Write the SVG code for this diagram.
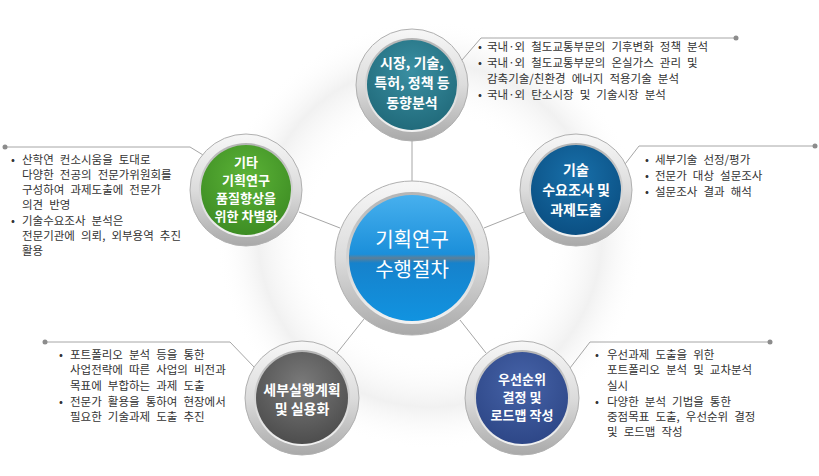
<svg xmlns="http://www.w3.org/2000/svg" width="819" height="476" viewBox="0 0 819 476">
<defs>
  <linearGradient id="ring" x1="0" y1="0" x2="0" y2="1">
    <stop offset="0" stop-color="#f7f7f7"/>
    <stop offset="0.5" stop-color="#dcdcdc"/>
    <stop offset="1" stop-color="#a9a9a9"/>
  </linearGradient>
  <linearGradient id="ringIn" x1="0" y1="0" x2="0" y2="1">
    <stop offset="0" stop-color="#b5b5b5"/>
    <stop offset="1" stop-color="#f2f2f2"/>
  </linearGradient>
  <radialGradient id="gTeal" cx="0.5" cy="0.35" r="0.7">
    <stop offset="0" stop-color="#3a8fa2"/>
    <stop offset="1" stop-color="#1f6878"/>
  </radialGradient>
  <radialGradient id="gGreen" cx="0.5" cy="0.35" r="0.7">
    <stop offset="0" stop-color="#5cb337"/>
    <stop offset="1" stop-color="#3b8a22"/>
  </radialGradient>
  <radialGradient id="gBlue" cx="0.5" cy="0.35" r="0.7">
    <stop offset="0" stop-color="#1870aa"/>
    <stop offset="1" stop-color="#0a4d80"/>
  </radialGradient>
  <radialGradient id="gGray" cx="0.5" cy="0.35" r="0.7">
    <stop offset="0" stop-color="#7a7a7a"/>
    <stop offset="1" stop-color="#4a4a4a"/>
  </radialGradient>
  <radialGradient id="gNavy" cx="0.5" cy="0.35" r="0.7">
    <stop offset="0" stop-color="#4663a8"/>
    <stop offset="1" stop-color="#2c4585"/>
  </radialGradient>
  <linearGradient id="gCenter" x1="0" y1="0" x2="0" y2="1">
    <stop offset="0" stop-color="#47b0ee"/>
    <stop offset="0.47" stop-color="#1b8fda"/>
    <stop offset="0.5" stop-color="#5c7f98"/>
    <stop offset="0.54" stop-color="#1682cc"/>
    <stop offset="1" stop-color="#1193e0"/>
  </linearGradient>
  <radialGradient id="halo" cx="0.5" cy="0.5" r="0.5">
    <stop offset="0.55" stop-color="#ffffff" stop-opacity="0"/>
    <stop offset="0.8" stop-color="#dcdcdc" stop-opacity="0.4"/>
    <stop offset="1" stop-color="#ffffff" stop-opacity="0"/>
  </radialGradient>
</defs>
<style>
  .ln { stroke: #a6a6a6; stroke-width: 1; fill: none; }
  .dot { fill: #8c8c8c; }
  .ring { fill: url(#ring); stroke: #b0b0b0; stroke-width: 1; }
  .ringin { fill: url(#ringIn); }
  .nt { font-family: "Noto Sans CJK KR", sans-serif; font-weight: bold; fill: #ffffff; text-anchor: middle; font-size: 14px; }
  .sm { font-size: 13px; }
  .ct { font-family: "Noto Sans CJK KR", sans-serif; fill: #333333; font-size: 11.5px; word-spacing: 3.5px; }
</style>
<rect width="819" height="476" fill="#ffffff"/>
<ellipse cx="430" cy="235" rx="215" ry="215" fill="url(#halo)"/>

<g id="connectors">
  <line class="ln" x1="412" y1="141" x2="412" y2="181"/>
  <line class="ln" x1="340" y1="228" x2="299" y2="212"/>
  <line class="ln" x1="484" y1="228" x2="524" y2="212"/>
  <line class="ln" x1="364" y1="319" x2="337" y2="353"/>
  <line class="ln" x1="460" y1="320" x2="486" y2="353"/>
  <polyline class="ln" points="462,60 481,38 736,38"/>
  <circle class="dot" cx="736" cy="38" r="2.5"/>
  <polyline class="ln" points="5,147 190,147 208,158"/>
  <circle class="dot" cx="5" cy="147" r="2.5"/>
  <polyline class="ln" points="622,168 639,146 815,146"/>
  <circle class="dot" cx="815" cy="146" r="2.5"/>
  <polyline class="ln" points="45,342 230,342 255,368"/>
  <circle class="dot" cx="45" cy="342" r="2.5"/>
  <polyline class="ln" points="570,368 590,342 770,342"/>
  <circle class="dot" cx="770" cy="342" r="2.5"/>
</g>

<g id="node-center">
  <circle class="ring" cx="412" cy="258" r="77"/>
  <circle class="ringin" cx="412" cy="258" r="66"/>
  <circle cx="412" cy="258" r="63" fill="url(#gCenter)"/>
  <text class="nt" x="412" y="247" style="font-size:20px;font-weight:normal">기획연구</text>
  <text class="nt" x="412" y="277" style="font-size:20px;font-weight:normal">수행절차</text>
</g>

<g id="node-top">
  <circle class="ring" cx="412" cy="85" r="56"/>
  <circle class="ringin" cx="412" cy="85" r="47"/>
  <circle cx="412" cy="85" r="45" fill="url(#gTeal)"/>
  <text class="nt" x="412" y="68">시장, 기술,</text>
  <text class="nt" x="412" y="88">특허, 정책 등</text>
  <text class="nt" x="412" y="108">동향분석</text>
</g>

<g id="node-left">
  <circle class="ring" cx="246" cy="190" r="56"/>
  <circle class="ringin" cx="246" cy="190" r="47"/>
  <circle cx="246" cy="190" r="45" fill="url(#gGreen)"/>
  <text class="nt sm" x="246" y="167">기타</text>
  <text class="nt sm" x="246" y="185">기획연구</text>
  <text class="nt sm" x="246" y="203">품질향상을</text>
  <text class="nt sm" x="246" y="221">위한 차별화</text>
</g>

<g id="node-right">
  <circle class="ring" cx="576" cy="190" r="56"/>
  <circle class="ringin" cx="576" cy="190" r="47"/>
  <circle cx="576" cy="190" r="45" fill="url(#gBlue)"/>
  <text class="nt" x="576" y="175">기술</text>
  <text class="nt" x="576" y="195">수요조사 및</text>
  <text class="nt" x="576" y="215">과제도출</text>
</g>

<g id="node-bottom-left">
  <circle class="ring" cx="302" cy="398" r="57"/>
  <circle class="ringin" cx="302" cy="398" r="48"/>
  <circle cx="302" cy="398" r="46" fill="url(#gGray)"/>
  <text class="nt" x="302" y="395">세부실행계획</text>
  <text class="nt" x="302" y="414">및 실용화</text>
</g>

<g id="node-bottom-right">
  <circle class="ring" cx="522" cy="398" r="57"/>
  <circle class="ringin" cx="522" cy="398" r="48"/>
  <circle cx="522" cy="398" r="46" fill="url(#gNavy)"/>
  <text class="nt sm" x="522" y="384">우선순위</text>
  <text class="nt sm" x="522" y="402">결정 및</text>
  <text class="nt sm" x="522" y="420">로드맵 작성</text>
</g>

<g id="callout-top">
  <text class="ct" x="478" y="51">•</text><text class="ct" x="487" y="51">국내·외 철도교통부문의 기후변화 정책 분석</text>
  <text class="ct" x="478" y="67">•</text><text class="ct" x="487" y="67">국내·외 철도교통부문의 온실가스 관리 및</text>
  <text class="ct" x="487" y="83">감축기술/친환경 에너지 적용기술 분석</text>
  <text class="ct" x="478" y="99">•</text><text class="ct" x="487" y="99">국내·외 탄소시장 및 기술시장 분석</text>
</g>

<g id="callout-left">
  <text class="ct" x="11" y="164">•</text><text class="ct" x="22" y="164">산학연 컨소시움을 토대로</text>
  <text class="ct" x="22" y="179">다양한 전공의 전문가위원회를</text>
  <text class="ct" x="22" y="194">구성하여 과제도출에 전문가</text>
  <text class="ct" x="22" y="209">의견 반영</text>
  <text class="ct" x="11" y="225">•</text><text class="ct" x="22" y="225">기술수요조사 분석은</text>
  <text class="ct" x="22" y="240">전문기관에 의뢰, 외부용역 추진</text>
  <text class="ct" x="22" y="255">활용</text>
</g>

<g id="callout-right">
  <text class="ct" x="645" y="164">•</text><text class="ct" x="655" y="164">세부기술 선정/평가</text>
  <text class="ct" x="645" y="180">•</text><text class="ct" x="655" y="180">전문가 대상 설문조사</text>
  <text class="ct" x="645" y="196">•</text><text class="ct" x="655" y="196">설문조사 결과 해석</text>
</g>

<g id="callout-bottom-left">
  <text class="ct" x="59" y="359">•</text><text class="ct" x="70" y="359">포트폴리오 분석 등을 통한</text>
  <text class="ct" x="70" y="374">사업전략에 따른 사업의 비전과</text>
  <text class="ct" x="70" y="390">목표에 부합하는 과제 도출</text>
  <text class="ct" x="59" y="406">•</text><text class="ct" x="70" y="406">전문가 활용을 통하여 현장에서</text>
  <text class="ct" x="70" y="421">필요한 기술과제 도출 추진</text>
</g>

<g id="callout-bottom-right">
  <text class="ct" x="595" y="359">•</text><text class="ct" x="607" y="359">우선과제 도출을 위한</text>
  <text class="ct" x="607" y="374">포트폴리오 분석 및 교차분석</text>
  <text class="ct" x="607" y="390">실시</text>
  <text class="ct" x="595" y="406">•</text><text class="ct" x="607" y="406">다양한 분석 기법을 통한</text>
  <text class="ct" x="607" y="421">중점목표 도출, 우선순위 결정</text>
  <text class="ct" x="607" y="436">및 로드맵 작성</text>
</g>
</svg>
